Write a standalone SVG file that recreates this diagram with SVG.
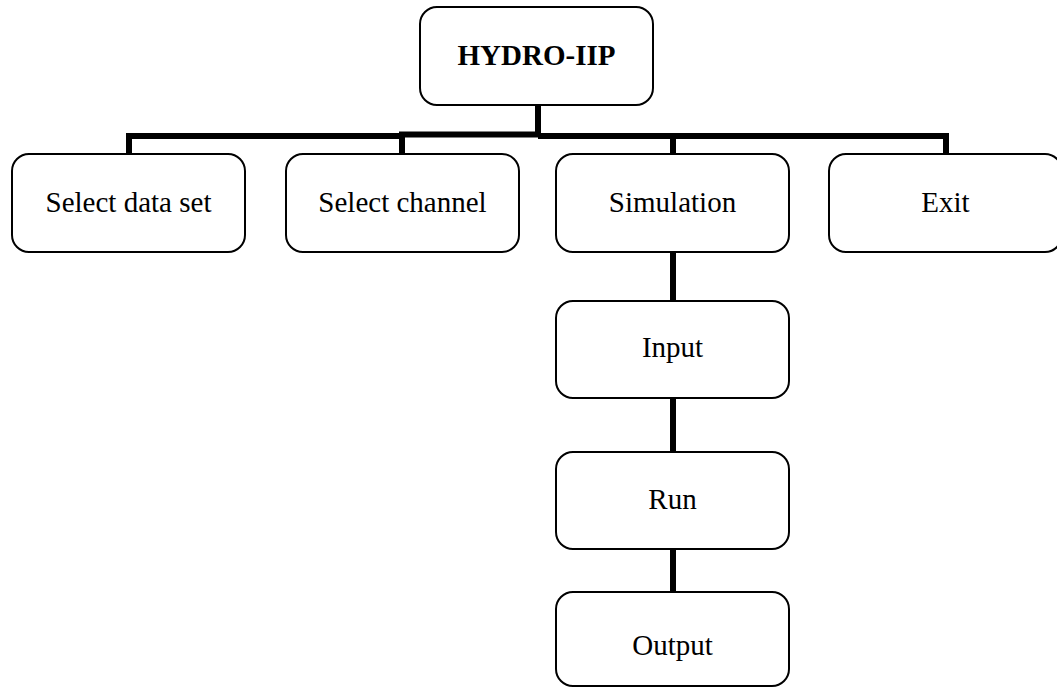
<svg xmlns="http://www.w3.org/2000/svg" width="1057" height="688" viewBox="0 0 1057 688">
<style>
.box{fill:#fff;stroke:#000;stroke-width:2}
.lbl{font-family:"Liberation Serif","Times New Roman",serif;font-size:29px;fill:#000;text-anchor:middle}
.bold{font-weight:bold}
.con{fill:none;stroke:#000;stroke-width:6;stroke-linecap:butt;stroke-linejoin:miter}
</style>
<rect width="1057" height="688" fill="#fff"/>
<g id="connectors">
<path class="con" d="M129,154 V136 H402"/>
<path class="con" d="M402,154 V134.5 H538 V104"/>
<path class="con" d="M538,136 H946 V154"/>
<path class="con" d="M673,136 V154"/>
<path class="con" d="M673,252 V302"/>
<path class="con" d="M673,397 V453"/>
<path class="con" d="M673,548 V593"/>
</g>
<g id="root"><rect class="box" x="420" y="7" width="233" height="98" rx="17"/><text class="lbl bold" x="536.5" y="65">HYDRO-IIP</text></g>
<g id="select-data-set"><rect class="box" x="12" y="154" width="233" height="98" rx="17"/><text class="lbl" x="128.5" y="212">Select data set</text></g>
<g id="select-channel"><rect class="box" x="286" y="154" width="233" height="98" rx="17"/><text class="lbl" x="402.5" y="212">Select channel</text></g>
<g id="simulation"><rect class="box" x="556" y="154" width="233" height="98" rx="17"/><text class="lbl" x="672.5" y="212">Simulation</text></g>
<g id="exit"><rect class="box" x="829" y="154" width="233" height="98" rx="17"/><text class="lbl" x="945.5" y="212">Exit</text></g>
<g id="input"><rect class="box" x="556" y="301" width="233" height="97" rx="17"/><text class="lbl" x="672.5" y="357">Input</text></g>
<g id="run"><rect class="box" x="556" y="452" width="233" height="97" rx="17"/><text class="lbl" x="672.5" y="509">Run</text></g>
<g id="output"><rect class="box" x="556" y="592" width="233" height="94" rx="17"/><text class="lbl" x="672.5" y="655">Output</text></g>
</svg>
